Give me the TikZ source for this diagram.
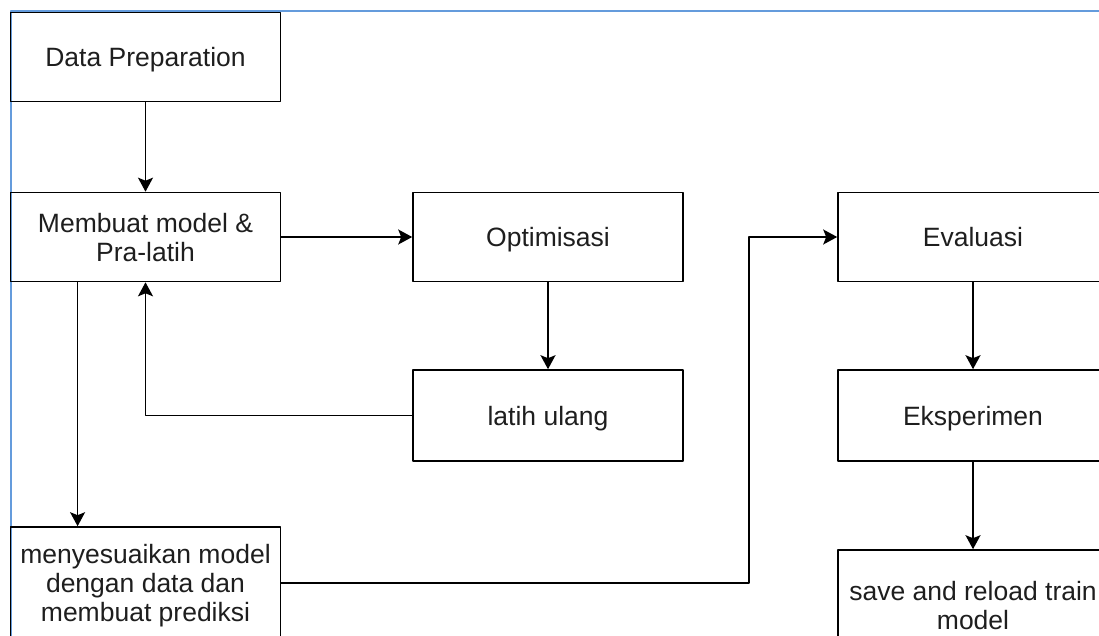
\documentclass[tikz,border=0pt]{standalone}
\usepackage{fontspec}
\setmainfont{Liberation Sans}
\usetikzlibrary{arrows.meta,calc}
\definecolor{selblue}{RGB}{100,155,220}
\definecolor{boxtext}{RGB}{30,30,30}
\begin{document}
\begin{tikzpicture}[x=1pt, y=-1pt, line join=round,
    box/.style={draw, line width=1.6pt, minimum width=270pt, minimum height=89pt, inner sep=0pt, text depth=0pt, align=center, text=boxtext, font=\fontsize{26.5}{29}\selectfont},
    arr/.style={-{Stealth[length=14pt,width=15pt,inset=3pt]}, line width=1.6pt}]
    \useasboundingbox (0,0) rectangle (1099,636);
    \clip (0,0) rectangle (1099,636);
    \draw[selblue, line width=2pt](10.5,636)--(10.5,11.5)--(1099,11.5);
    \node[box](prep) at (145.5,57){Data Preparation};
    \node[box](model) at (145.5,237){Membuat model \&\\Pra-latih};
    \node[box](opt) at (548,237){Optimisasi};
    \node[box, minimum height=91pt](ulang) at (548,415.5){latih ulang};
    \node[box, minimum height=112pt](sesuai) at (145.5,583){menyesuaikan model\\dengan data dan\\membuat prediksi};
    \node[box](evl) at (973,237){Evaluasi};
    \node[box, minimum height=91pt](eks) at (973,415.5){Eksperimen};
    \node[box, minimum height=110pt](save) at (973,605){save and reload train\\model};
    \coordinate (jog) at (749,237);
    \draw[arr](prep)--(model);
    \draw[arr](model)--(opt);
    \draw[arr](opt)--(ulang);
    \draw[arr](ulang.west)-|(model.south);
    \draw[arr]($(model.south west)!0.25!(model.south east)$)--($(sesuai.north west)!0.25!(sesuai.north east)$);
    \draw[arr](sesuai.east)-|(jog)--(evl.west);
    \draw[arr](evl)--(eks);
    \draw[arr](eks)--(save);
\end{tikzpicture}
\end{document}
